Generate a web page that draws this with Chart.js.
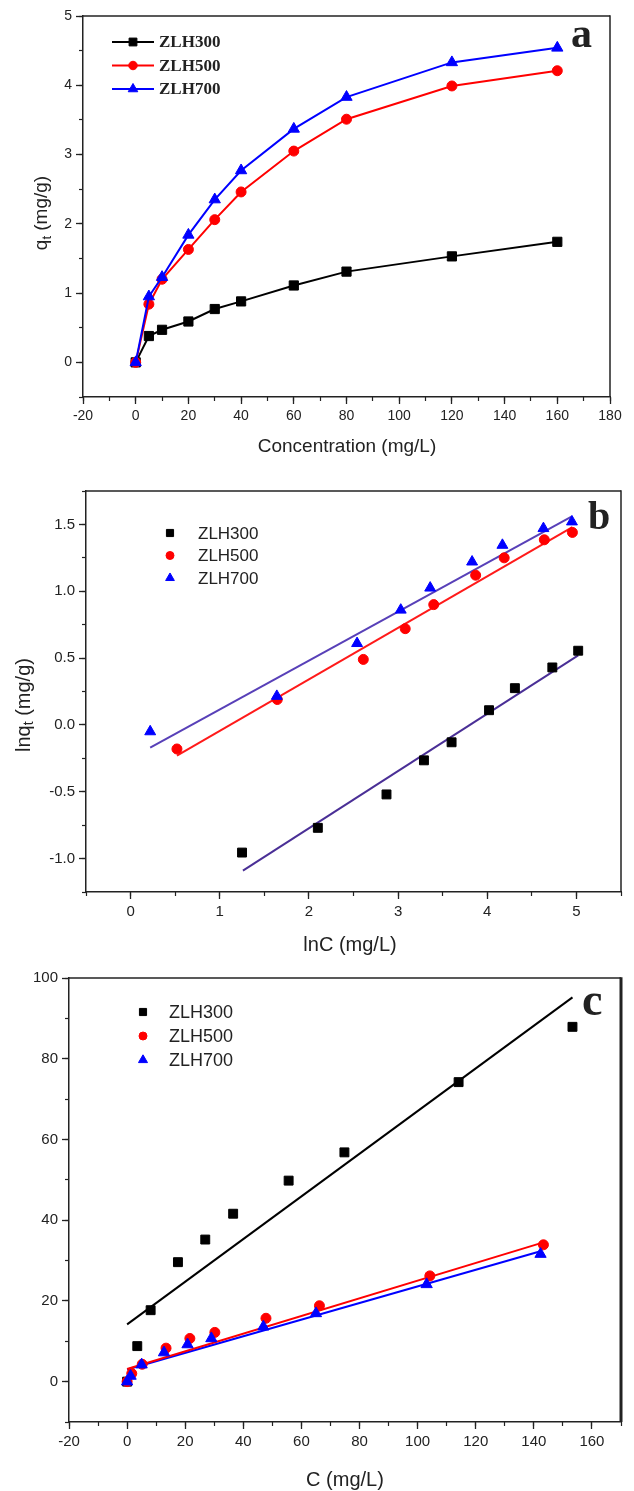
<!DOCTYPE html>
<html>
<head>
<meta charset="utf-8">
<script src="https://cdn.jsdelivr.net/npm/chart.js@4.4.1/dist/chart.umd.min.js"></script>
<style>
  body { margin: 0; background: #fff; }
  canvas { position: absolute; left: 0; }
</style>
</head>
<body>
<canvas id="chartA" width="634" height="465" style="top:0px"></canvas>
<canvas id="chartB" width="634" height="495" style="top:465px"></canvas>
<canvas id="chartC" width="634" height="531" style="top:960px"></canvas>
<script>
// ---- panel a : q_t against initial concentration
const concA = [0, 5, 10, 20, 30, 40, 60, 80, 120, 160];
const qA300 = [0, 0.38, 0.47, 0.59, 0.77, 0.88, 1.11, 1.31, 1.53, 1.74];
const qA500 = [0, 0.84, 1.2, 1.63, 2.06, 2.46, 3.05, 3.51, 3.99, 4.21];
const qA700 = [0, 0.95, 1.23, 1.84, 2.35, 2.77, 3.37, 3.83, 4.33, 4.54];
const ticksAx = [-20, 0, 20, 40, 60, 80, 100, 120, 140, 160, 180];
const ticksAy = [0, 1, 2, 3, 4, 5];

// ---- panel b : lnq_t against lnC
const lnC300 = [1.25, 2.10, 2.87, 3.29, 3.60, 4.02, 4.31, 4.73, 5.02];
const lnq300 = [-0.955, -0.77, -0.52, -0.265, -0.13, 0.11, 0.275, 0.43, 0.555];
const lnC500 = [0.52, 1.645, 2.61, 3.08, 3.40, 3.87, 4.19, 4.64, 4.955];
const lnq500 = [-0.18, 0.19, 0.49, 0.72, 0.90, 1.12, 1.25, 1.385, 1.44];
const lnC700 = [0.22, 1.64, 2.54, 3.03, 3.36, 3.83, 4.17, 4.63, 4.95];
const lnq700 = [-0.05, 0.215, 0.61, 0.86, 1.025, 1.22, 1.345, 1.47, 1.52];
// fitted lines (end points)
const fitBx300 = [1.26, 5.02], fitBy300 = [-1.09, 0.52];
const fitBx500 = [0.52, 4.955], fitBy500 = [-0.23, 1.48];
const fitBx700 = [0.22, 4.95], fitBy700 = [-0.17, 1.56];
const ticksBx = [0, 1, 2, 3, 4, 5];
const ticksBy = [-1.0, -0.5, 0.0, 0.5, 1.0, 1.5];

// ---- panel c : C/q against C
const cC300 = [0, 3.5, 8.1, 17.5, 26.9, 36.5, 55.6, 74.8, 114.1, 153.3];
const cY300 = [0, 8.8, 17.7, 29.6, 35.2, 41.6, 49.8, 56.8, 74.2, 87.9];
const cC500 = [0, 1.6, 5.2, 13.4, 21.6, 30.2, 47.8, 66.2, 104.2, 143.3];
const cY500 = [0, 2.0, 4.3, 8.3, 10.7, 12.2, 15.7, 18.8, 26.2, 33.9];
const cC700 = [0, 1.2, 5.0, 12.7, 20.8, 29.0, 46.9, 65.0, 103.1, 142.3];
const cY700 = [0, 1.4, 4.2, 7.2, 9.2, 10.7, 13.6, 16.9, 24.1, 31.6];
const fitCx300 = [0, 153.3], fitCy300 = [14.2, 95.2];
const fitCx500 = [0, 143.3], fitCy500 = [3.15, 34.5];
const fitCx700 = [0, 142.3], fitCy700 = [3.0, 32.3];
const ticksCx = [-20, 0, 20, 40, 60, 80, 100, 120, 140, 160];
const ticksCy = [0, 20, 40, 60, 80, 100];

const names = ['ZLH300', 'ZLH500', 'ZLH700'];

const SANS = '"Liberation Sans", Arial, sans-serif';
const SERIF = '"Liberation Serif", "Times New Roman", serif';
const INK = '#222';

function pts(xs, ys) {
  return xs.map((x, i) => ({ x: x, y: ys[i] }));
}

function series(label, xs, ys, color, style, r, line, order) {
  return {
    label: label, data: pts(xs, ys), showLine: line, order: order,
    borderColor: color, backgroundColor: color, borderWidth: 2,
    pointStyle: style, pointRadius: r, pointHoverRadius: r,
    pointBackgroundColor: color, pointBorderColor: color, pointBorderWidth: 1
  };
}

function fitLine(xs, ys, color) {
  return {
    data: pts(xs, ys), showLine: true, order: 10, inLegend: false,
    borderColor: color, borderWidth: 2, pointRadius: 0, pointHoverRadius: 0
  };
}

// labelled axis with the long (major) ticks, placed at the given tick values
function axis(min, max, tickValues, digits, fontSize, fit) {
  return {
    type: 'linear', min: min, max: max,
    afterFit: fit,
    afterBuildTicks: s => { s.ticks = tickValues.map(v => ({ value: v })); },
    border: { display: true, color: INK, width: 1.5 },
    grid: { display: true, drawOnChartArea: false, drawTicks: true, tickLength: 7, tickColor: INK, tickWidth: 1.3 },
    ticks: {
      autoSkip: false, maxRotation: 0, minRotation: 0,
      color: INK, padding: 4, font: { family: SANS, size: fontSize },
      callback: v => Number(v).toFixed(digits)
    }
  };
}

// overlay axis that only draws the short minor ticks
function minorAxis(dir, min, max, step, at) {
  return {
    type: 'linear', axis: dir, min: min, max: max, position: at,
    border: { display: false },
    grid: { display: true, drawOnChartArea: false, drawTicks: true, tickLength: 4, tickColor: INK, tickWidth: 1.2 },
    ticks: { display: false, stepSize: step, autoSkip: false }
  };
}

// box round the plot
const framePlugin = {
  id: 'frame',
  afterDraw(chart, args, opts) {
    const a = chart.chartArea, ctx = chart.ctx;
    ctx.save();
    ctx.strokeStyle = INK;
    ctx.lineWidth = 1.5;
    ctx.beginPath();
    ctx.moveTo(a.left, a.top);
    ctx.lineTo(a.right, a.top);
    ctx.stroke();
    ctx.lineWidth = opts.right || 1.5;
    ctx.beginPath();
    ctx.moveTo(a.right, a.top - 0.75);
    ctx.lineTo(a.right, a.bottom);
    ctx.stroke();
    ctx.restore();
  }
};

// axis titles, panel letters
const notesPlugin = {
  id: 'notes',
  afterDraw(chart, args, opts) {
    const ctx = chart.ctx;
    (opts.items || []).forEach(item => {
      ctx.save();
      ctx.translate(item.x, item.y);
      if (item.rotate) ctx.rotate(item.rotate);
      ctx.fillStyle = item.color || INK;
      ctx.textBaseline = item.baseline || 'middle';
      ctx.textAlign = 'left';
      let total = 0;
      item.parts.forEach(p => { ctx.font = p[1]; total += ctx.measureText(p[0]).width; });
      let cx = item.align === 'left' ? 0 : -total / 2;
      item.parts.forEach(p => {
        ctx.font = p[1];
        ctx.fillText(p[0], cx, p[2] || 0);
        cx += ctx.measureText(p[0]).width;
      });
      ctx.restore();
    });
  }
};

// legend inside the plot
const keyPlugin = {
  id: 'key',
  afterDraw(chart, args, opts) {
    const ctx = chart.ctx;
    const sets = chart.data.datasets.filter(d => d.inLegend !== false);
    sets.forEach((d, i) => {
      const y = opts.y + i * opts.gap;
      ctx.save();
      if (opts.line) {
        ctx.strokeStyle = d.borderColor;
        ctx.lineWidth = d.borderWidth;
        ctx.beginPath();
        ctx.moveTo(opts.lineFrom, y);
        ctx.lineTo(opts.lineTo, y);
        ctx.stroke();
      }
      ctx.fillStyle = d.pointBackgroundColor;
      ctx.strokeStyle = d.pointBorderColor;
      ctx.lineWidth = 1;
      Chart.helpers.drawPoint(ctx, { pointStyle: d.pointStyle, radius: d.pointRadius * (opts.scale || 1), rotation: 0, borderWidth: 1 }, opts.mark, y);
      ctx.fillStyle = INK;
      ctx.font = opts.font;
      ctx.textAlign = 'left';
      ctx.textBaseline = 'middle';
      ctx.fillText(d.label, opts.text, y + 1);
      ctx.restore();
    });
  }
};

function baseOptions(pad, scales, notes, key, frame) {
  return {
    responsive: false, animation: false,
    layout: { padding: pad },
    scales: scales,
    plugins: {
      legend: { display: false }, tooltip: { enabled: false },
      notes: { items: notes }, key: key, frame: frame
    }
  };
}

const plugins = [framePlugin, notesPlugin, keyPlugin];

// ---------- a ----------
new Chart(document.getElementById('chartA'), {
  type: 'scatter',
  data: {
    datasets: [
      series(names[0], concA, qA300, '#000000', 'rect', 6.5, true, 3),
      series(names[1], concA, qA500, '#ff0000', 'circle', 5, true, 2),
      series(names[2], concA, qA700, '#0000ff', 'triangle', 6.5, true, 1)
    ]
  },
  options: baseOptions(
    { left: 0, top: 16, right: 24, bottom: 0 },
    {
      x: axis(-20, 180, ticksAx, 0, 14, s => { s.height = 68; }),
      y: axis(-0.5, 5, ticksAy, 0, 14, s => { s.width = 83; }),
      xm: minorAxis('x', -20, 180, 10, { y: -0.5 }),
      ym: minorAxis('y', -0.5, 5, 0.5, { x: -20 })
    },
    [
      { x: 347, y: 447, parts: [['Concentration (mg/L)', '19px ' + SANS]] },
      { x: 42, y: 213, rotate: -Math.PI / 2, parts: [['q', '19px ' + SANS], ['t', '13px ' + SANS, 5], [' (mg/g)', '19px ' + SANS]] },
      { x: 571, y: 47, align: 'left', baseline: 'alphabetic', parts: [['a', 'bold 42px ' + SERIF]] }
    ],
    { y: 42, gap: 23.5, line: true, lineFrom: 112, lineTo: 154, mark: 133, text: 159, font: 'bold 17px ' + SERIF, scale: 0.85 },
    {}
  ),
  plugins: plugins
});

// ---------- b ----------
new Chart(document.getElementById('chartB'), {
  type: 'scatter',
  data: {
    datasets: [
      series(names[0], lnC300, lnq300, '#000000', 'rect', 6.3, false, 3),
      series(names[1], lnC500, lnq500, '#ff0000', 'circle', 5, false, 2),
      series(names[2], lnC700, lnq700, '#0000ff', 'triangle', 6.3, false, 1),
      fitLine(fitBx300, fitBy300, '#4a2f96'),
      fitLine(fitBx500, fitBy500, '#ff1a1a'),
      fitLine(fitBx700, fitBy700, '#5840b8')
    ]
  },
  options: baseOptions(
    { left: 0, top: 26, right: 13, bottom: 0 },
    {
      x: axis(-0.5, 5.5, ticksBx, 0, 15, s => { s.height = 68; }),
      y: axis(-1.25, 1.75, ticksBy, 1, 15, s => { s.width = 86; }),
      xm: minorAxis('x', -0.5, 5.5, 0.5, { y: -1.25 }),
      ym: minorAxis('y', -1.25, 1.75, 0.25, { x: -0.5 })
    },
    [
      { x: 350, y: 480, parts: [['lnC (mg/L)', '20px ' + SANS]] },
      { x: 24, y: 240, rotate: -Math.PI / 2, parts: [['lnq', '20px ' + SANS], ['t', '14px ' + SANS, 5], [' (mg/g)', '20px ' + SANS]] },
      { x: 588, y: 64, align: 'left', baseline: 'alphabetic', parts: [['b', 'bold 40px ' + SERIF]] }
    ],
    { y: 68, gap: 22.5, line: false, mark: 170, text: 198, font: '17px ' + SANS, scale: 0.8 },
    {}
  ),
  plugins: plugins
});

// ---------- c ----------
new Chart(document.getElementById('chartC'), {
  type: 'scatter',
  data: {
    datasets: [
      series(names[0], cC300, cY300, '#000000', 'rect', 6.3, false, 3),
      series(names[1], cC500, cY500, '#ff0000', 'circle', 5, false, 2),
      series(names[2], cC700, cY700, '#0000ff', 'triangle', 6.5, false, 1),
      fitLine(fitCx300, fitCy300, '#000000'),
      fitLine(fitCx500, fitCy500, '#ff0000'),
      fitLine(fitCx700, fitCy700, '#0000ff')
    ]
  },
  options: baseOptions(
    { left: 0, top: 18, right: 13, bottom: 0 },
    {
      x: axis(-20, 170, ticksCx, 0, 15, s => { s.height = 69; }),
      y: axis(-10, 100, ticksCy, 0, 15, s => { s.width = 69; }),
      xm: minorAxis('x', -20, 170, 10, { y: -10 }),
      ym: minorAxis('y', -10, 100, 10, { x: -20 })
    },
    [
      { x: 345, y: 520, parts: [['C (mg/L)', '20px ' + SANS]] },
      { x: 582, y: 55, align: 'left', baseline: 'alphabetic', parts: [['c', 'bold 46px ' + SERIF]] }
    ],
    { y: 52, gap: 24, line: false, mark: 143, text: 169, font: '18px ' + SANS, scale: 0.8 },
    { right: 3 }
  ),
  plugins: plugins
});
</script>
</body>
</html>
